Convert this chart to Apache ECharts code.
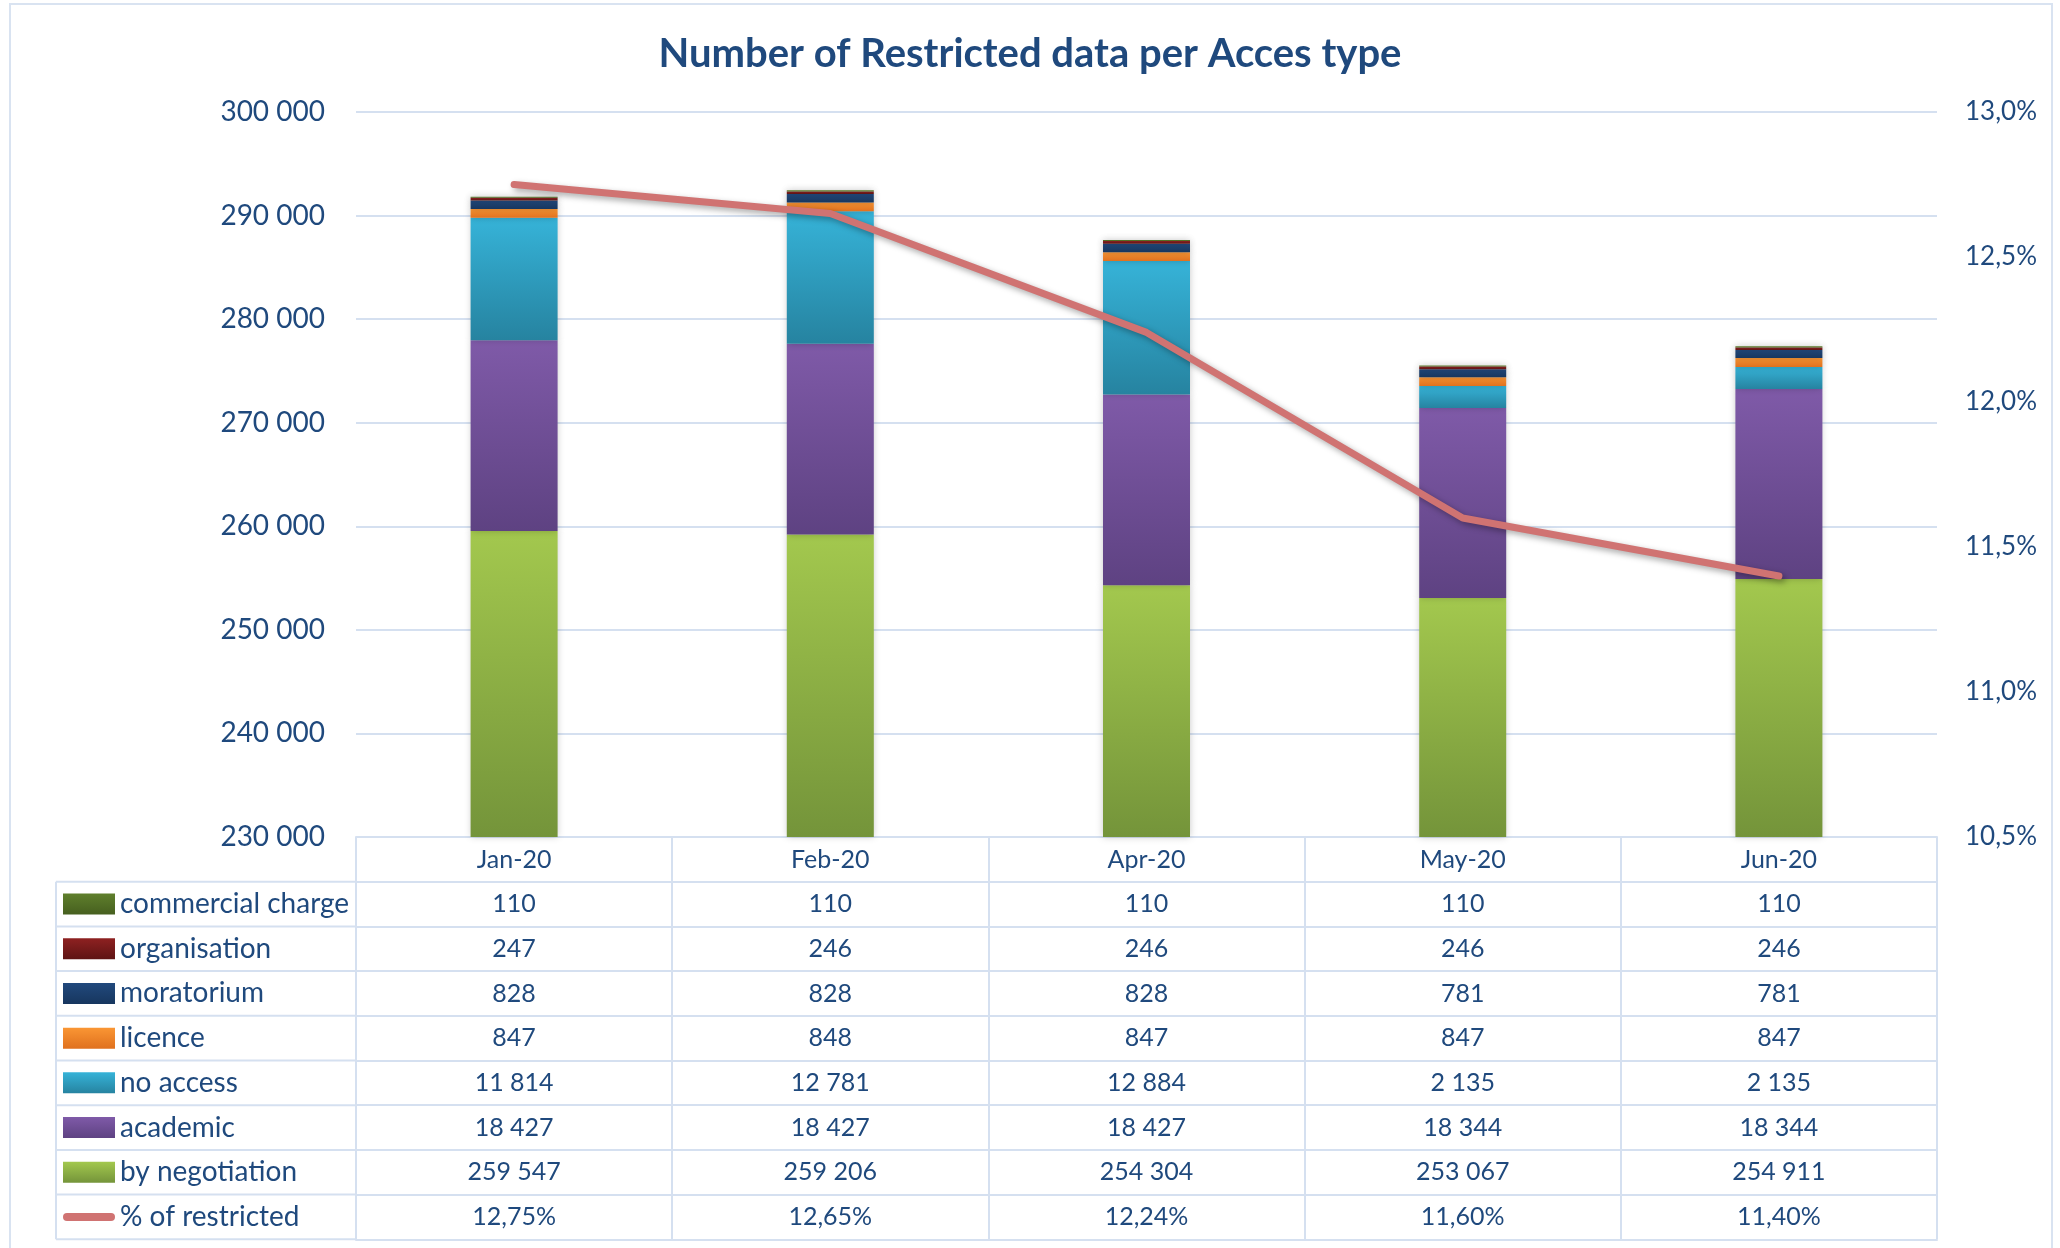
<!DOCTYPE html>
<html>
<head>
<meta charset="utf-8">
<title>Number of Restricted data per Acces type</title>
<script src="https://cdn.jsdelivr.net/npm/echarts@6/dist/echarts.min.js"></script>
<style>
  html, body { margin: 0; padding: 0; background: #fff; }
  #chart { width: 2060px; height: 1248px; }
</style>
</head>
<body>
<div id="chart"></div>
<script>
// data
const months = ['Jan-20', 'Feb-20', 'Apr-20', 'May-20', 'Jun-20']
const byNegotiation = [259547, 259206, 254304, 253067, 254911]
const academic = [18427, 18427, 18427, 18344, 18344]
const noAccess = [11814, 12781, 12884, 2135, 2135]
const licence = [847, 848, 847, 847, 847]
const moratorium = [828, 828, 828, 781, 781]
const organisation = [247, 246, 246, 246, 246]
const commercialCharge = [110, 110, 110, 110, 110]
const pctRestricted = [12.75, 12.65, 12.24, 11.60, 11.40]

// layout
const GRID_LEFT = 356
const GRID_RIGHT = 123
const GRID_TOP = 112
const GRID_BOTTOM = 411
const ROW_H = 44.7
const TABLE_LEFT = 56
const TEXT = '#1F497D'
const LINE = '#D5E0F0'
const PCT_COLOR = '#D07372'
const LEGEND_H = 28

const plotBottom = 1248 - GRID_BOTTOM

function fmtInt (v) {
  return String(v).replace(/\B(?=(\d{3})+(?!\d))/g, ' ')
}
function fmtPct (v, d) {
  return v.toFixed(d).replace('.', ',') + '%'
}
function grad (top, bottom) {
  return new echarts.graphic.LinearGradient(0, 0, 0, 1, [
    { offset: 0, color: top },
    { offset: 1, color: bottom }
  ])
}

// stacked series, bottom -> top
const barSeries = [
  { name: 'by negotiation', data: byNegotiation, c: ['#A3C84E', '#74943A'] },
  { name: 'academic', data: academic, c: ['#7F5AA8', '#5E4282'] },
  { name: 'no access', data: noAccess, c: ['#36B3D8', '#2683A0'] },
  { name: 'licence', data: licence, c: ['#FA9634', '#E0711E'] },
  { name: 'moratorium', data: moratorium, c: ['#21497D', '#17365E'] },
  { name: 'organisation', data: organisation, c: ['#8E2121', '#5E1414'] },
  { name: 'commercial charge', data: commercialCharge, c: ['#5F7F2C', '#465F1F'] }
]

// table rows, top -> bottom
const tableRows = [
  { name: 'commercial charge', cells: commercialCharge.map(fmtInt) },
  { name: 'organisation', cells: organisation.map(fmtInt) },
  { name: 'moratorium', cells: moratorium.map(fmtInt) },
  { name: 'licence', cells: licence.map(fmtInt) },
  { name: 'no access', cells: noAccess.map(fmtInt) },
  { name: 'academic', cells: academic.map(fmtInt) },
  { name: 'by negotiation', cells: byNegotiation.map(fmtInt) },
  { name: '% of restricted', cells: pctRestricted.map(v => fmtPct(v, 2)) }
]

const cellLabel = {
  interval: 0,
  margin: 10,
  fontFamily: 'Lato',
  fontSize: 25,
  lineHeight: 25,
  color: TEXT
}
const tableLine = { lineStyle: { color: LINE, width: 2 } }

const xAxes = [{
  type: 'category',
  data: months,
  position: 'bottom',
  axisLine: tableLine,
  axisTick: { show: true, interval: 0, length: ROW_H * 9, lineStyle: { color: LINE, width: 2 } },
  axisLabel: cellLabel,
  splitLine: { show: false }
}]
tableRows.forEach((row, i) => {
  xAxes.push({
    type: 'category',
    gridIndex: 0,
    position: 'bottom',
    offset: ROW_H * (i + 1),
    data: row.cells,
    axisLine: tableLine,
    axisTick: { show: false },
    axisLabel: cellLabel,
    splitLine: { show: false }
  })
})
// bottom border of the table
xAxes.push({
  type: 'category',
  gridIndex: 0,
  position: 'bottom',
  offset: ROW_H * 9,
  data: months,
  axisLine: tableLine,
  axisTick: { show: false },
  axisLabel: { show: false }
})

// left column lines of the table
const tableGraphics = []
for (let i = 1; i <= 9; i++) {
  const y = plotBottom + ROW_H * i
  tableGraphics.push({
    type: 'line',
    shape: { x1: TABLE_LEFT, y1: y, x2: GRID_LEFT, y2: y },
    style: { stroke: LINE, lineWidth: 2 }
  })
}
tableGraphics.push({
  type: 'line',
  shape: { x1: TABLE_LEFT, y1: plotBottom + ROW_H, x2: TABLE_LEFT, y2: plotBottom + ROW_H * 9 },
  style: { stroke: LINE, lineWidth: 2 }
})
// outer chart border
tableGraphics.push({
  type: 'rect',
  shape: { x: 10, y: 4, width: 2042, height: 1260 },
  style: { fill: 'none', stroke: '#D9E3F1', lineWidth: 2 },
  z: -1
})

const series = barSeries.map(s => ({
  name: s.name,
  type: 'bar',
  stack: 'total',
  barWidth: 87,
  data: s.data,
  itemStyle: {
    color: grad(s.c[0], s.c[1]),
    shadowColor: 'rgba(0,0,0,0.22)',
    shadowBlur: 7,
    shadowOffsetX: 0,
    shadowOffsetY: 0
  },
  emphasis: { disabled: true }
}))
series.push({
  name: '% of restricted',
  type: 'line',
  yAxisIndex: 1,
  data: pctRestricted,
  symbol: 'none',
  z: 5,
  lineStyle: {
    color: PCT_COLOR,
    width: 7,
    cap: 'round',
    join: 'round',
    shadowColor: 'rgba(0,0,0,0.35)',
    shadowBlur: 6,
    shadowOffsetX: 3,
    shadowOffsetY: 3
  },
  itemStyle: { color: PCT_COLOR }
})

// legend icons: flat box for the bars, thick rounded bar for the line
const rectIcon = 'path://M0,0 L52,0 L52,21 L0,21 Z'
const lineIcon = 'path://M4,0 L48,0 A4,4 0 0 1 48,8 L4,8 A4,4 0 0 1 4,0 Z'

const chart = echarts.init(document.getElementById('chart'), null, { renderer: 'canvas' })
chart.setOption({
  backgroundColor: '#fff',
  animation: false,
  title: {
    text: 'Number of Restricted data per Acces type',
    left: 'center',
    top: 29,
    textStyle: { fontFamily: 'Lato', fontWeight: 'bold', fontSize: 40, color: TEXT }
  },
  legend: {
    orient: 'vertical',
    left: 63,
    top: plotBottom + ROW_H * 1.5 - LEGEND_H / 2,
    height: 440,
    padding: 0,
    itemWidth: 52,
    itemHeight: LEGEND_H,
    itemGap: ROW_H - LEGEND_H,
    selectedMode: false,
    data: tableRows.map(r => ({ name: r.name, icon: r.name === '% of restricted' ? lineIcon : rectIcon })),
    textStyle: { fontFamily: 'Lato', fontSize: 28, lineHeight: LEGEND_H, color: TEXT }
  },
  grid: {
    left: GRID_LEFT,
    right: GRID_RIGHT,
    top: GRID_TOP,
    bottom: GRID_BOTTOM,
    containLabel: false,
    outerBoundsMode: 'none'
  },
  xAxis: xAxes,
  yAxis: [
    {
      type: 'value',
      min: 230000,
      max: 300000,
      interval: 10000,
      axisLine: { show: false },
      axisTick: { show: false },
      splitLine: { lineStyle: { color: LINE, width: 2 } },
      axisLabel: {
        margin: 31,
        fontFamily: 'Lato',
        fontSize: 28,
        color: TEXT,
        formatter: v => fmtInt(v)
      }
    },
    {
      type: 'value',
      min: 10.5,
      max: 13,
      interval: 0.5,
      position: 'right',
      axisLine: { show: false },
      axisTick: { show: false },
      splitLine: { show: false },
      axisLabel: {
        margin: 28,
        fontFamily: 'Lato',
        fontSize: 26,
        color: TEXT,
        formatter: v => fmtPct(v, 1)
      }
    }
  ],
  graphic: tableGraphics,
  series: series
})
</script>
</body>
</html>
